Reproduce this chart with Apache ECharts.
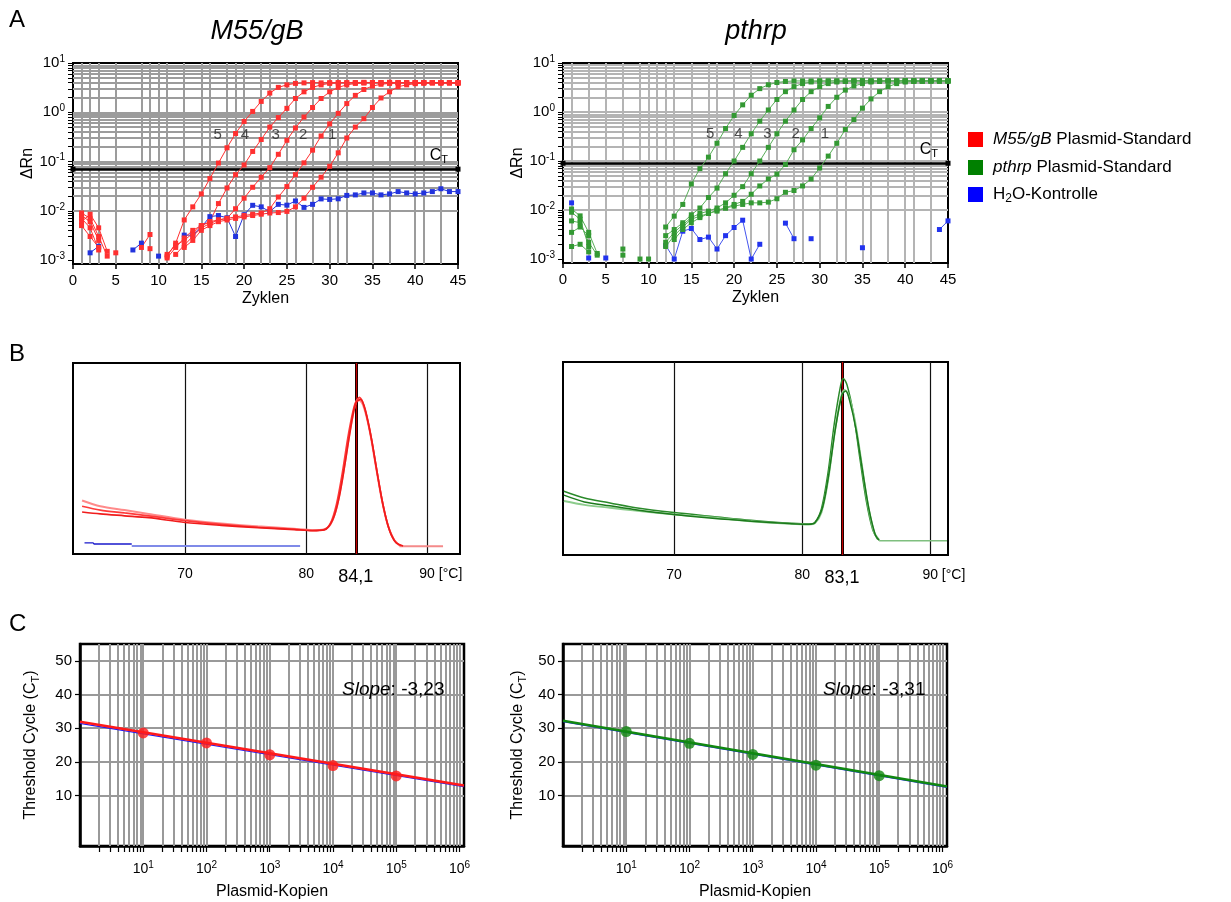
<!DOCTYPE html>
<html>
<head>
<meta charset="utf-8">
<title>M55/gB und pthrp – Amplifikation, Schmelzkurve, Standardkurve</title>
<script src="https://cdn.jsdelivr.net/npm/echarts@6/dist/echarts.min.js"></script>
<style>
  html, body { margin: 0; padding: 0; background: #fff; }
  #chart { width: 1231px; height: 902px; }
</style>
</head>
<body>
<div id="chart"></div>
<script>
const FONT = '"Liberation Sans", Arial, Helvetica, sans-serif';

// ---- A: Amplifikationskurven (ΔRn pro Zyklus) ----
const cycles = [1, 2, 3, 4, 5, 6, 7, 8, 9, 10, 11, 12, 13, 14, 15, 16, 17, 18, 19, 20,
  21, 22, 23, 24, 25, 26, 27, 28, 29, 30, 31, 32, 33, 34, 35, 36, 37, 38, 39, 40,
  41, 42, 43, 44, 45];

const m55Std1 = [0.0080, 0.0060, 0.0025, null, null, null, null, null, null, null,
  null, null, 0.0018, 0.0025, 0.0040, 0.0050, 0.0060, 0.0065, 0.0070, 0.0075,
  0.0080, 0.0085, 0.0090, 0.0092, 0.0097, 0.012, 0.018, 0.030, 0.048, 0.080,
  0.15, 0.30, 0.50, 0.74, 1.25, 1.95, 2.6, 3.3, 3.6, 3.8,
  3.9, 3.95, 3.9, 3.95, 3.9];
const m55Std2 = [0.0050, 0.0030, 0.0018, null, 0.0014, null, null, null, null, null,
  null, 0.0013, 0.0020, 0.0030, 0.0045, 0.0055, 0.0065, 0.0070, 0.0075, 0.0080,
  0.0085, 0.0090, 0.011, 0.019, 0.031, 0.054, 0.094, 0.17, 0.33, 0.58,
  0.95, 1.5, 2.2, 2.9, 3.4, 3.7, 3.85, 3.95, 4.0, 4.0,
  3.95, 4.0, 4.0, 4.0, 3.95];
const m55Std3 = [0.0060, 0.0085, 0.0045, 0.0015, null, null, null, 0.0018, 0.0033, null,
  0.0013, 0.0020, 0.0025, 0.0035, 0.0050, 0.0060, 0.0065, 0.0070, 0.011, 0.018,
  0.030, 0.048, 0.075, 0.14, 0.27, 0.48, 0.80, 1.25, 1.9, 2.6,
  3.2, 3.6, 3.85, 3.95, 4.0, 4.0, 3.95, 4.0, 4.0, 3.95,
  4.0, 4.0, 4.0, 3.95, 4.0];
const m55Std4 = [0.0090, 0.0070, 0.0030, 0.0012, null, null, null, null, 0.0017, null,
  0.0011, 0.0018, 0.0028, 0.0040, 0.0050, 0.0060, 0.014, 0.029, 0.054, 0.085,
  0.16, 0.28, 0.50, 0.78, 1.2, 1.9, 2.6, 3.2, 3.6, 3.85,
  3.95, 4.0, 4.0, 3.95, 4.0, 4.0, 4.05, 4.0, 3.95, 4.0,
  4.0, 4.0, 3.95, 4.0, 4.0];
const m55Std5 = [0.0070, 0.0045, 0.0016, null, null, null, null, null, null, null,
  0.0012, 0.0022, 0.0065, 0.012, 0.022, 0.045, 0.093, 0.19, 0.37, 0.65,
  1.04, 1.66, 2.45, 3.2, 3.6, 3.85, 3.95, 4.0, 3.95, 4.0,
  4.0, 3.95, 4.0, 4.05, 4.0, 3.95, 4.0, 4.0, 3.95, 4.0,
  4.0, 3.95, 4.0, 3.95, 3.9];
const m55H2O = [null, 0.0014, 0.0019, null, null, null, 0.0016, 0.0022, null, 0.0012,
  null, null, 0.0032, 0.0032, 0.0046, 0.0076, 0.0080, 0.0072, 0.0030, 0.0083,
  0.0129, 0.012, 0.0096, 0.0135, 0.013, 0.0158, 0.0117, 0.0135, 0.0174, 0.017,
  0.0175, 0.0205, 0.021, 0.023, 0.023, 0.021, 0.022, 0.0245, 0.023, 0.022,
  0.023, 0.0245, 0.028, 0.0245, 0.0245];

const pthStd1 = [0.0090, 0.0065, 0.0018, null, null, null, null, null, null, null,
  null, null, 0.0025, 0.0040, 0.0055, 0.0070, 0.0085, 0.010, 0.011, 0.012,
  0.013, 0.014, 0.014, 0.0145, 0.017, 0.023, 0.025, 0.031, 0.043, 0.072,
  0.126, 0.23, 0.44, 0.70, 1.2, 1.85, 2.6, 3.3, 3.8, 4.1,
  4.2, 4.3, 4.3, 4.3, 4.3];
const pthStd2 = [0.0018, 0.0020, 0.0014, null, null, null, null, null, null, null,
  null, 0.0018, 0.0030, 0.0045, 0.0065, 0.0075, 0.0085, 0.0095, 0.011, 0.013,
  0.015, 0.021, 0.031, 0.043, 0.054, 0.085, 0.17, 0.27, 0.46, 0.76,
  1.3, 2.0, 2.8, 3.4, 3.8, 4.1, 4.2, 4.3, 4.3, 4.35,
  4.3, 4.3, 4.35, 4.3, 4.3];
const pthStd3 = [0.0035, 0.0045, 0.0030, null, null, null, null, null, null, null,
  null, 0.0022, 0.0035, 0.0050, 0.0070, 0.0085, 0.0095, 0.011, 0.014, 0.020,
  0.030, 0.055, 0.10, 0.19, 0.36, 0.65, 1.1, 1.8, 2.6, 3.3,
  3.8, 4.1, 4.2, 4.3, 4.3, 4.3, 4.35, 4.3, 4.3, 4.3,
  4.35, 4.3, 4.3, 4.3, 4.35];
const pthStd4 = [0.0060, 0.0055, 0.0022, 0.0012, null, null, 0.0012, null, null, 0.0010,
  null, 0.0030, 0.0040, 0.0055, 0.0080, 0.011, 0.018, 0.028, 0.055, 0.10,
  0.19, 0.36, 0.65, 1.1, 1.8, 2.6, 3.3, 3.8, 4.1, 4.2,
  4.3, 4.3, 4.3, 4.35, 4.3, 4.3, 4.3, 4.35, 4.3, 4.3,
  4.3, 4.3, 4.35, 4.3, 4.3];
const pthStd5 = [0.0105, 0.0076, 0.0035, 0.0013, null, null, 0.0016, null, 0.0010, null,
  null, 0.0045, 0.0075, 0.013, 0.034, 0.070, 0.12, 0.23, 0.46, 0.85,
  1.4, 2.2, 3.0, 3.6, 4.0, 4.2, 4.3, 4.3, 4.3, 4.35,
  4.3, 4.3, 4.3, 4.3, 4.35, 4.3, 4.3, 4.3, 4.3, 4.35,
  4.3, 4.3, 4.3, 4.35, 4.3];
const pthH2O = [0.014, null, 0.00105, null, 0.00105, null, null, null, null, null,
  null, 0.0019, 0.0010, 0.0037, 0.0042, 0.0025, 0.0028, 0.0016, 0.0030, 0.0044,
  0.0062, 0.0010, 0.0020, null, null, 0.0054, 0.0026, null, 0.0026, null,
  null, null, null, null, 0.0017, null, null, null, null, null,
  null, null, null, 0.0040, 0.0060];

const thresholdM55 = 0.068;
const thresholdPth = 0.085;
const stdNames = ['5', '4', '3', '2', '1'];
const stdLabelCyclesM55 = [16.9, 20.1, 23.7, 26.9, 30.3];
const stdLabelCyclesPth = [17.2, 20.5, 23.9, 27.2, 30.6];
const stdLabelLevel = 0.35;
const ampDecades = [0.001, 0.01, 0.1, 1, 10];
const gridCyclesM55 = [1, 2, 3, 5, 8, 9, 10, 11, 13, 15, 16, 18, 19, 20, 22, 23, 25, 26,
  28, 30, 31, 32, 35, 37, 40, 41, 43];
const gridCyclesPth = [1, 3, 5, 7, 9, 10, 11, 12, 13, 15, 17, 18, 20, 22, 24, 25, 27, 28,
  30, 32, 33, 35, 36, 38, 40, 41, 43];

// ---- B: Schmelzkurven [°C, -dF/dT (rel.)] ----
const meltM55a = [[61.5, 28], [63, 25], [65, 23], [67, 21], [70, 18], [73, 16], [76, 14.5],
  [79, 13.2], [80.5, 12.5], [81.5, 13], [82, 15.5], [82.5, 24], [83, 40], [83.5, 60],
  [84, 77], [84.3, 81], [84.7, 78], [85.2, 66], [85.7, 48], [86.2, 30], [86.7, 16],
  [87.2, 8], [87.7, 4.5]];
const meltM55b = [[61.5, 25], [63, 23], [65, 21.5], [67, 20], [70, 17.5], [73, 15.5], [76, 14],
  [79, 13], [80.5, 12.3], [81.5, 12.8], [82, 16], [82.5, 26], [83, 43], [83.5, 63],
  [84, 78], [84.4, 82], [84.8, 77], [85.3, 63], [85.8, 45], [86.3, 27], [86.8, 14],
  [87.3, 7], [87.8, 4.3]];
const meltM55c = [[61.5, 22], [63, 21], [65, 20], [67, 19], [70, 16.5], [73, 15], [76, 13.8],
  [79, 12.8], [80.5, 12.2], [81.5, 12.6], [82.2, 18], [82.7, 29], [83.2, 47], [83.7, 67],
  [84.1, 79], [84.5, 81], [84.9, 75], [85.4, 60], [85.9, 41], [86.4, 24], [86.9, 12],
  [87.4, 6], [88, 4.2]];
const meltM55Tail = [[87.7, 4], [91.3, 4]];
const meltH2ODark = [[61.7, 5.8], [62.4, 5.8], [62.5, 5.2], [65.6, 5.2]];
const meltH2OLight = [[65.6, 4.2], [79.5, 4.2]];

const meltPthA = [[61.4, 33], [63, 29.5], [65, 27], [67, 24.5], [70, 22], [73, 20], [76, 18],
  [79, 16.5], [80.5, 16], [81, 17], [81.5, 24], [82, 42], [82.5, 68], [83, 88],
  [83.2, 91.5], [83.5, 88], [84, 73], [84.5, 50], [85, 28], [85.5, 13], [85.9, 8]];
const meltPthB = [[61.4, 28], [63, 26], [65, 24.5], [67, 23], [70, 21], [73, 19.5], [76, 17.5],
  [79, 16.2], [80.5, 15.8], [81, 16.5], [81.5, 22], [82, 38], [82.5, 62], [83, 81],
  [83.3, 85.5], [83.6, 83], [84.1, 70], [84.6, 49], [85.1, 27], [85.6, 12], [86, 7.8]];
const meltPthC = [[61.4, 31], [63, 27.5], [65, 25.5], [67, 23.5], [70, 21], [73, 19], [76, 17.5],
  [79, 16.3], [80.5, 15.9], [81, 16.8], [81.6, 25], [82.1, 43], [82.6, 66], [83.1, 83],
  [83.4, 85], [83.7, 80], [84.2, 65], [84.7, 44], [85.2, 24], [85.7, 10.5], [86, 7.6]];
const meltPthTail = [[86, 7.4], [91.3, 7.4]];

const meltTicks = [70, 80, 90];
const peakM55 = 84.1;
const peakPth = 83.1;

// ---- C: Standardkurven ----
const plasmidCopies = [10, 100, 1000, 10000, 100000];
const ctM55 = [28.6, 25.6, 22.1, 18.9, 15.8];
const ctPth = [29.0, 25.5, 22.2, 19.0, 15.9];
const fitM55 = [[1, 31.9], [1180000, 12.95]];
const fitM55Under = [[1, 31.4], [1180000, 12.6]];
const fitPth = [[1, 32.2], [1180000, 12.7]];
const fitPthUnder = [[1, 31.9], [1180000, 12.4]];
const copyDecades = [10, 100, 1000, 10000, 100000, 1000000];
const ctLabels = [10, 20, 30, 40, 50];

// ---------------------------------------------------------------
function logMinor(fromExp, toExp) {
  const out = [];
  for (let e = fromExp; e < toExp; e++) {
    for (let m = 2; m <= 9; m++) out.push(+(m * Math.pow(10, e)).toPrecision(6));
  }
  return out;
}
const ampMinor = logMinor(-3, 1);
const ampHLines = ampMinor.concat([0.01, 0.1, 1]);
const copyMinor = logMinor(0, 6);

function decadeLabel(v, hideZero) {
  const e = Math.log10(v);
  const r = Math.round(e);
  if (Math.abs(e - r) > 1e-6) return '';
  if (hideZero && r === 0) return '';
  return '{b|10}{s|' + r + '}';
}
const supRich = (size) => ({
  b: { fontSize: size, fontFamily: FONT, color: '#000' },
  s: { fontSize: Math.round(size * 0.68), fontFamily: FONT, color: '#000', padding: [0, 0, 8, 0] }
});

function cyclePairs(vals) {
  return vals.map((v, i) => [cycles[i], v]);
}

function ampSeries(idx, vals, color, lineColor) {
  return {
    type: 'line', xAxisIndex: idx, yAxisIndex: idx, z: 10, silent: true,
    data: cyclePairs(vals),
    symbol: 'rect', symbolSize: 5, showSymbol: true, showAllSymbol: true,
    connectNulls: false,
    itemStyle: { color: color },
    lineStyle: { color: lineColor || color, width: 1 }
  };
}

function gridSeries(idx, xs, ys, color) {
  return {
    type: 'line', xAxisIndex: idx, yAxisIndex: idx, data: [], silent: true,
    markLine: {
      silent: true, symbol: 'none', animation: false,
      label: { show: false },
      lineStyle: { color: color, width: 2, type: 'solid' },
      data: xs.map(x => ({ xAxis: x })).concat(ys.map(y => ({ yAxis: y })))
    }
  };
}

function thresholdSeries(idx, thr) {
  return {
    type: 'line', xAxisIndex: idx, yAxisIndex: idx, data: [], silent: true,
    markLine: {
      silent: true, symbol: ['rect', 'rect'], symbolSize: 5, animation: false,
      lineStyle: { color: '#000', width: 2.5, type: 'solid' },
      label: {
        show: true, position: 'insideEndTop', distance: [10, 4],
        formatter: '{c|C}{t|T}',
        rich: {
          c: { fontSize: 16, fontFamily: FONT, color: '#000' },
          t: { fontSize: 11, fontFamily: FONT, color: '#000', padding: [9, 0, 0, 0] }
        }
      },
      data: [{ yAxis: thr }]
    }
  };
}

function stdLabelSeries(idx, xs) {
  return {
    type: 'scatter', xAxisIndex: idx, yAxisIndex: idx, z: 12, silent: true,
    symbolSize: 1, itemStyle: { color: 'rgba(0,0,0,0)' },
    data: xs.map((x, i) => ({ value: [x, stdLabelLevel], name: stdNames[i] })),
    label: { show: true, position: 'inside', formatter: '{b}', fontSize: 15, color: '#222', fontFamily: FONT }
  };
}

function meltSeries(idx, pts, color, width) {
  return {
    type: 'line', xAxisIndex: idx, yAxisIndex: idx, z: 10, silent: true,
    data: pts, showSymbol: false, smooth: 0.3,
    lineStyle: { color: color, width: width || 1.6 }
  };
}

function meltMarks(idx, peak) {
  return [
    {
      type: 'line', xAxisIndex: idx, yAxisIndex: idx, data: [], silent: true,
      markLine: {
        silent: true, symbol: 'none', animation: false, label: { show: false },
        lineStyle: { color: '#111', width: 1.2, type: 'solid' },
        data: meltTicks.map(t => ({ xAxis: t }))
      }
    },
    {
      type: 'line', xAxisIndex: idx, yAxisIndex: idx, data: [], silent: true,
      markLine: {
        silent: true, symbol: 'none', animation: false,
        lineStyle: { color: '#000', width: 3, type: 'solid' },
        label: {
          show: true, position: 'start', distance: 14,
          formatter: String(peak).replace('.', ','),
          fontSize: 18, color: '#000', fontFamily: FONT
        },
        data: [{ xAxis: peak }]
      }
    },
    {
      type: 'line', xAxisIndex: idx, yAxisIndex: idx, data: [], silent: true,
      markLine: {
        silent: true, symbol: 'none', animation: false, label: { show: false },
        lineStyle: { color: '#c00000', width: 1.3, type: 'solid' },
        data: [{ xAxis: peak }]
      }
    }
  ];
}

function lineSeries(idx, pts, color, width, z) {
  return {
    type: 'line', xAxisIndex: idx, yAxisIndex: idx, z: z || 10, silent: true,
    data: pts, showSymbol: false, lineStyle: { color: color, width: width }
  };
}

function pointSeries(idx, xs, ys, color) {
  return {
    type: 'scatter', xAxisIndex: idx, yAxisIndex: idx, z: 12, silent: true,
    data: xs.map((x, i) => [x, ys[i]]),
    symbol: 'circle', symbolSize: 11, itemStyle: { color: color }
  };
}

// ---- axes ----
function ampXAxis(gi) {
  return {
    gridIndex: gi, type: 'value', min: 0, max: 45, interval: 5,
    axisLine: { show: true, onZero: false, lineStyle: { color: '#000', width: 2 } },
    axisTick: { show: true, length: 5, lineStyle: { color: '#000', width: 1.5 } },
    axisLabel: { fontSize: 15, color: '#000', fontFamily: FONT, margin: 9 },
    splitLine: { show: false },
    name: 'Zyklen', nameLocation: 'middle', nameGap: 27,
    nameTextStyle: { fontSize: 16, color: '#000', fontFamily: FONT }
  };
}
function ampYAxis(gi) {
  return {
    gridIndex: gi, type: 'log', logBase: 10, min: 0.00083, max: 10,
    axisLine: { show: true, onZero: false, lineStyle: { color: '#000', width: 2 } },
    axisTick: { show: true, length: 5, customValues: ampMinor.concat(ampDecades), lineStyle: { color: '#000', width: 1 } },
    axisLabel: { customValues: ampDecades, margin: 8, formatter: v => decadeLabel(v, false), rich: supRich(15) },
    splitLine: { show: false },
    name: 'ΔRn', nameLocation: 'middle', nameGap: 32,
    nameTextStyle: { fontSize: 16, color: '#000', fontFamily: FONT }
  };
}
function meltXAxis(gi, min, max) {
  return {
    gridIndex: gi, type: 'value', min: min, max: max,
    axisLine: { show: false, onZero: false }, axisTick: { show: false }, splitLine: { show: false },
    axisLabel: {
      customValues: meltTicks, margin: 13, color: '#000', fontSize: 14, fontFamily: FONT,
      formatter: v => v === 90 ? '{p|}{v|90}{u| [°C]}' : '{v|' + v + '}',
      rich: {
        p: { width: 27 },
        v: { fontSize: 14, fontFamily: FONT, color: '#000' },
        u: { fontSize: 14, fontFamily: FONT, color: '#000' }
      }
    }
  };
}
function meltYAxis(gi) {
  return { gridIndex: gi, type: 'value', min: 0, max: 100, show: false, splitLine: { show: false } };
}
function ctXAxis(gi) {
  return {
    gridIndex: gi, type: 'log', logBase: 10, min: 1, max: 1180000,
    axisLine: { show: true, onZero: false, lineStyle: { color: '#000', width: 2.5 } },
    axisTick: { show: true, length: 6, customValues: copyMinor.concat(copyDecades), lineStyle: { color: '#000', width: 1.2 } },
    axisLabel: { customValues: copyDecades, margin: 14, formatter: v => decadeLabel(v, true), rich: supRich(14) },
    splitLine: { show: false },
    name: 'Plasmid-Kopien', nameLocation: 'middle', nameGap: 38,
    nameTextStyle: { fontSize: 16, color: '#000', fontFamily: FONT }
  };
}
function ctYAxis(gi, gap) {
  return {
    gridIndex: gi, type: 'value', min: -5, max: 55, interval: 5,
    axisLine: { show: true, onZero: false, lineStyle: { color: '#000', width: 2.5 } },
    axisTick: { show: true, length: 5, customValues: ctLabels, lineStyle: { color: '#000', width: 1.2 } },
    axisLabel: { customValues: ctLabels, margin: 8, fontSize: 15, color: '#000', fontFamily: FONT },
    splitLine: { show: true, lineStyle: { color: '#999', width: 2 } },
    name: '{a|Threshold Cycle (C}{s|T}{a|)}', nameLocation: 'middle', nameGap: gap,
    nameTextStyle: {
      rich: {
        a: { fontSize: 16, fontFamily: FONT, color: '#000' },
        s: { fontSize: 11, fontFamily: FONT, color: '#000', padding: [9, 0, 0, 0] }
      }
    }
  };
}

const boxed = { show: true, borderColor: '#000', borderWidth: 2, backgroundColor: 'rgba(0,0,0,0)' };

const slopeRich = {
  i: { fontStyle: 'italic', fontSize: 19, fontFamily: FONT, fill: '#000' },
  n: { fontSize: 19, fontFamily: FONT, fill: '#000' }
};
const legendRich = {
  i: { fontStyle: 'italic', fontSize: 17, fontFamily: FONT, fill: '#000' },
  n: { fontSize: 17, fontFamily: FONT, fill: '#000' },
  s: { fontSize: 12, fontFamily: FONT, fill: '#000', padding: [9, 0, 0, 0] }
};

const option = {
  animation: false,
  backgroundColor: '#fff',
  textStyle: { fontFamily: FONT },
  grid: [
    Object.assign({ left: 73, top: 63, width: 385, height: 201 }, boxed),
    Object.assign({ left: 563, top: 63, width: 385, height: 200 }, boxed),
    Object.assign({ left: 73, top: 363, width: 387, height: 191 }, boxed),
    Object.assign({ left: 563, top: 362, width: 385, height: 193 }, boxed),
    Object.assign({ left: 80, top: 644, width: 384, height: 202 }, boxed, { borderWidth: 2.5 }),
    Object.assign({ left: 563, top: 644, width: 384, height: 202 }, boxed, { borderWidth: 2.5 })
  ],
  xAxis: [
    ampXAxis(0), ampXAxis(1),
    meltXAxis(2, 60.75, 92.7), meltXAxis(3, 61.33, 91.375),
    ctXAxis(4), ctXAxis(5)
  ],
  yAxis: [
    ampYAxis(0), ampYAxis(1),
    meltYAxis(2), meltYAxis(3),
    ctYAxis(4, 39), ctYAxis(5, 35)
  ],
  series: [
    // A links: M55/gB
    gridSeries(0, gridCyclesM55, ampHLines, '#9c9c9c'),
    thresholdSeries(0, thresholdM55),
    ampSeries(0, m55H2O, '#2233dd'),
    ampSeries(0, m55Std1, '#ff3030'),
    ampSeries(0, m55Std2, '#ff3030'),
    ampSeries(0, m55Std3, '#ff3030'),
    ampSeries(0, m55Std4, '#ff3030'),
    ampSeries(0, m55Std5, '#ff3030'),
    stdLabelSeries(0, stdLabelCyclesM55),
    // A rechts: pthrp
    gridSeries(1, gridCyclesPth, ampHLines, '#b4b4b4'),
    thresholdSeries(1, thresholdPth),
    ampSeries(1, pthH2O, '#2233ee', '#4455ee'),
    ampSeries(1, pthStd1, '#339933', '#5aae5a'),
    ampSeries(1, pthStd2, '#339933', '#5aae5a'),
    ampSeries(1, pthStd3, '#339933', '#5aae5a'),
    ampSeries(1, pthStd4, '#339933', '#5aae5a'),
    ampSeries(1, pthStd5, '#339933', '#5aae5a'),
    stdLabelSeries(1, stdLabelCyclesPth),
    // B links
    ...meltMarks(2, peakM55),
    meltSeries(2, meltH2ODark, '#1a1acc', 1.4),
    meltSeries(2, meltH2OLight, '#7f8ae8', 2),
    meltSeries(2, meltM55Tail, '#f48a8a', 2),
    meltSeries(2, meltM55a, '#ff8a8a', 2),
    meltSeries(2, meltM55b, '#ff3a3a', 1.7),
    meltSeries(2, meltM55c, '#f01c1c', 1.7),
    // B rechts
    ...meltMarks(3, peakPth),
    meltSeries(3, meltPthTail, '#7fbf7f', 1.6),
    meltSeries(3, meltPthA, '#2a8a2a', 1.5),
    meltSeries(3, meltPthB, '#8ccc8c', 1.9),
    meltSeries(3, meltPthC, '#1c7a1c', 1.5),
    // C links
    gridSeries(4, copyMinor.concat(copyDecades), [], '#999'),
    lineSeries(4, fitM55Under, '#1a1aff', 1.2, 9),
    lineSeries(4, fitM55, '#ff1a1a', 2.5, 10),
    pointSeries(4, plasmidCopies, ctM55, '#ff1a1a'),
    // C rechts
    gridSeries(5, copyMinor.concat(copyDecades), [], '#999'),
    lineSeries(5, fitPthUnder, '#1a1aff', 1.2, 9),
    lineSeries(5, fitPth, '#118811', 2.5, 10),
    pointSeries(5, plasmidCopies, ctPth, '#118811')
  ],
  graphic: [
    { type: 'text', z: 100, left: 9, top: 8, style: { text: 'A', font: '24px ' + FONT, fill: '#000' } },
    { type: 'text', z: 100, left: 9, top: 342, style: { text: 'B', font: '24px ' + FONT, fill: '#000' } },
    { type: 'text', z: 100, left: 9, top: 612, style: { text: 'C', font: '24px ' + FONT, fill: '#000' } },
    { type: 'text', z: 100, x: 257, y: 31, style: { text: 'M55/gB', font: 'italic 27px ' + FONT, fill: '#000', align: 'center', verticalAlign: 'middle' } },
    { type: 'text', z: 100, x: 756, y: 31, style: { text: 'pthrp', font: 'italic 27px ' + FONT, fill: '#000', align: 'center', verticalAlign: 'middle' } },
    // Legende
    { type: 'rect', z: 100, shape: { x: 968, y: 132, width: 15, height: 15 }, style: { fill: '#ff0000' } },
    { type: 'rect', z: 100, shape: { x: 968, y: 160, width: 15, height: 15 }, style: { fill: '#008000' } },
    { type: 'rect', z: 100, shape: { x: 968, y: 187, width: 15, height: 15 }, style: { fill: '#0000ff' } },
    { type: 'text', z: 100, x: 993, y: 139, style: { text: '{i|M55/gB}{n| Plasmid-Standard}', verticalAlign: 'middle', rich: legendRich } },
    { type: 'text', z: 100, x: 993, y: 167, style: { text: '{i|pthrp}{n| Plasmid-Standard}', verticalAlign: 'middle', rich: legendRich } },
    { type: 'text', z: 100, x: 993, y: 194, style: { text: '{n|H}{s|2}{n|O-Kontrolle}', verticalAlign: 'middle', rich: legendRich } },
    // Steigung der Standardkurven
    { type: 'text', z: 100, x: 342, y: 690, style: { text: '{i|Slope}{n|: -3,23}', verticalAlign: 'middle', rich: slopeRich } },
    { type: 'text', z: 100, x: 823, y: 690, style: { text: '{i|Slope}{n|: -3,31}', verticalAlign: 'middle', rich: slopeRich } }
  ]
};

const chart = echarts.init(document.getElementById('chart'));
chart.setOption(option);
</script>
</body>
</html>
